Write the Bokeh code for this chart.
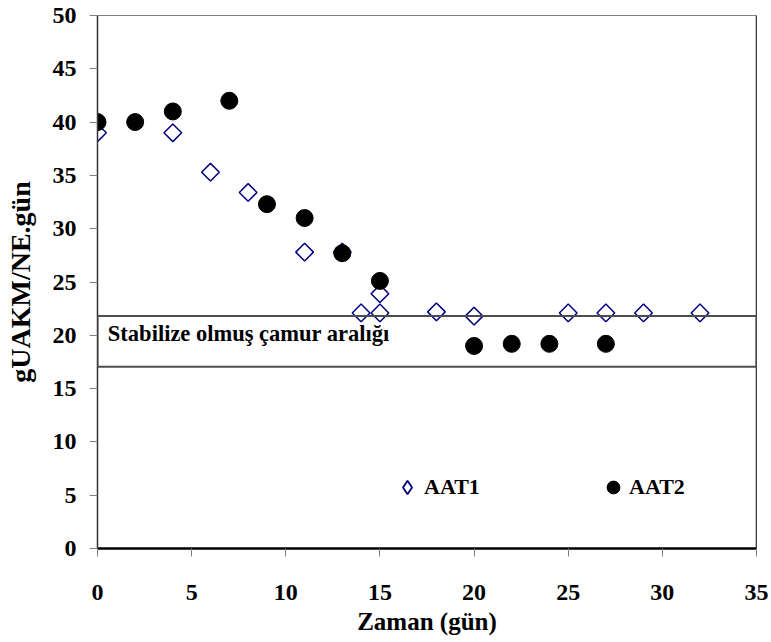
import numpy as np
from bokeh.plotting import figure
from bokeh.models import (ColumnDataSource, BoxAnnotation, Label, Legend, LegendItem,
                          Span, Range1d, FixedTicker)
from bokeh.embed import file_html
from bokeh.resources import INLINE

# ---- data ----
aat1_day = [0, 4, 6, 8, 11, 13, 14, 15, 15, 18, 20, 25, 27, 29, 32]
aat1_val = [39.0, 39.0, 35.3, 33.4, 27.8, 27.8, 22.1, 23.9, 22.1, 22.2, 21.8, 22.1, 22.1, 22.1, 22.1]

aat2_day = [0, 2, 4, 7, 9, 11, 13, 15, 20, 22, 24, 27]
aat2_val = [40.0, 40.0, 41.0, 42.0, 32.3, 31.0, 27.7, 25.1, 19.0, 19.2, 19.2, 19.2]

stable_range = [17.05, 21.8]
stable_text = "Stabilize olmuş çamur aralığı"

x_ticks = [0, 5, 10, 15, 20, 25, 30, 35]
y_ticks = [0, 5, 10, 15, 20, 25, 30, 35, 40, 45, 50]
x_min, x_max = 0, 35
y_min, y_max = 0, 50
x_title = "Zaman (gün)"
y_title = "gUAKM/NE.gün"

FONT = "Liberation Serif"

p = figure(width=771, height=642, output_backend="svg", toolbar_location=None,
           x_range=Range1d(x_min, x_max), y_range=Range1d(y_min, y_max),
           min_border_left=97, min_border_right=15, min_border_top=15, min_border_bottom=94)
p.extra_x_ranges = {"legend_only": Range1d(1000, 1001)}

p.xgrid.visible = False
p.ygrid.visible = False
p.outline_line_color = "#808080"
p.outline_line_width = 1
p.background_fill_color = "white"
p.border_fill_color = "white"

# axes
for ax in (p.xaxis[0], p.yaxis[0]):
    ax.major_label_text_font = FONT
    ax.major_label_text_font_style = "bold"
    ax.major_label_text_font_size = "24px"
    ax.major_label_text_color = "black"
    ax.axis_label_text_font = FONT
    ax.axis_label_text_font_style = "bold"
    ax.axis_label_text_color = "black"
    ax.major_tick_in = 0
    ax.major_tick_out = 8
    ax.major_tick_line_color = "#808080"
    ax.major_tick_line_width = 1
    ax.minor_tick_line_color = None

p.xaxis.ticker = FixedTicker(ticks=x_ticks)
p.yaxis.ticker = FixedTicker(ticks=y_ticks)
p.xaxis.axis_label = x_title
p.yaxis.axis_label = y_title
p.xaxis.axis_label_text_font_size = "25px"
p.yaxis.axis_label_text_font_size = "28px"
p.xaxis.axis_line_color = "black"
p.xaxis.axis_line_width = 2.5
p.yaxis.axis_line_color = "#333333"
p.yaxis.axis_line_width = 1.5
p.xaxis.major_label_standoff = 28
p.yaxis.major_label_standoff = 13
p.xaxis.axis_label_standoff = 5
p.yaxis.axis_label_standoff = 14

# right edge
p.add_layout(Span(location=x_max, dimension="height", line_color="black", line_width=1.5))

# stabilized range box
p.add_layout(BoxAnnotation(bottom=stable_range[0], top=stable_range[1],
                           fill_alpha=0, line_color="#4d4d4d", line_alpha=1, line_width=2))
p.add_layout(Label(x=0.55, y=20.2, text=stable_text, text_font=FONT,
                   text_font_style="bold", text_font_size="22.5px",
                   text_baseline="middle", text_color="black"))

src1 = ColumnDataSource(dict(x=aat1_day, y=aat1_val))
src2 = ColumnDataSource(dict(x=aat2_day, y=aat2_val))

r1 = p.scatter("x", "y", source=src1, marker="square", angle=np.pi / 4, size=12.5,
               fill_color=None, line_color="#000080", line_width=1.5)
r2 = p.scatter("x", "y", source=src2, marker="circle", size=17,
               fill_color="black", line_color="black")

# legend-only diamond renderer (legend glyphs are drawn unrotated); mapped off-frame
r1_leg = p.scatter("x", "y", source=src1, x_range_name="legend_only", marker="diamond",
                   fill_color=None, line_color="#000080", line_width=1.8)

common = dict(orientation="horizontal", padding=0, margin=0, border_line_color=None,
              background_fill_alpha=0, label_text_font=FONT, label_text_font_style="bold",
              label_text_font_size="22px", label_text_color="black", label_standoff=0)

leg1 = Legend(items=[LegendItem(label="AAT1", renderers=[r1_leg])],
              location=(293, 44), glyph_width=34, glyph_height=34, **common)
leg2 = Legend(items=[LegendItem(label="AAT2", renderers=[r2])],
              location=(500, 45), glyph_width=32, glyph_height=32, **common)
p.add_layout(leg1)
p.add_layout(leg2)

open("out.html", "w").write(file_html(p, INLINE))
